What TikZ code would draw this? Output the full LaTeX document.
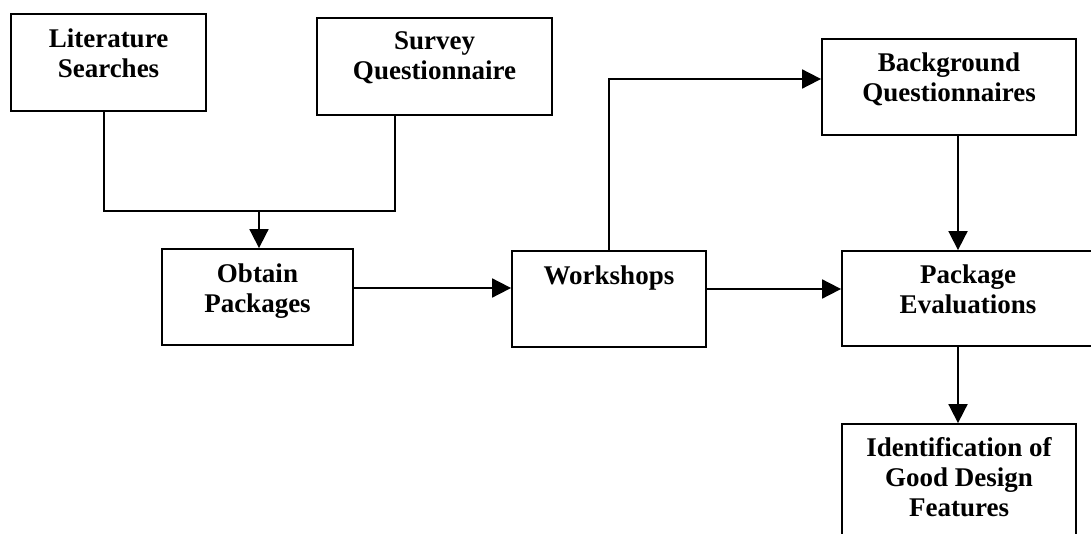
\documentclass[tikz,border=0pt]{standalone}
\usepackage{fontspec}
\setmainfont{Liberation Serif}
\usepackage{tikz}
\usetikzlibrary{arrows.meta,positioning}
\tikzset{
  stage/.style={draw, line width=1.8pt, inner sep=0pt},
  stagetext/.style={anchor=north, align=center, inner sep=0pt,
    font=\bfseries\fontsize{27}{30}\selectfont},
  link/.style={line width=1.8pt},
  flow/.style={line width=1.8pt, -{Triangle[length=19pt,width=19pt]}}
}

\begin{document}
\begin{tikzpicture}[x=1pt,y=-1pt]
\useasboundingbox (0,0) rectangle (1091,534);
\clip (0,0) rectangle (1091,534);
% boxes:
\node[stage, minimum width=195pt, minimum height=97pt] (lit) at (108.5,62.5) {};
\node[stage, minimum width=235pt, minimum height=97pt] (survey) at (434.5,66.5) {};
\node[stage, minimum width=191pt, minimum height=96pt] (obtain) at (257.5,297) {};
\node[stage, minimum width=194pt, minimum height=96pt] (workshops) at (609,299) {};
\node[stage, minimum width=254pt, minimum height=96pt] (back) at (949,87) {};
\node[stage, minimum width=252pt, minimum height=95pt] (pe) at (968,298.5) {};
\node[stage, minimum width=234pt, minimum height=130pt] (ident) at (959,489) {};
% texts:
\node[stagetext, below=15pt of lit.north] (littext) {Literature\\Searches};
\node[stagetext, below=14pt of survey.north] (surveytext) {Survey\\Questionnaire};
\node[stagetext, below=15pt of obtain.north] (obtaintext) {Obtain\\Packages};
\node[stagetext, below=15pt of workshops.north] (workshopstext) {Workshops};
\node[stagetext, below=14pt of back.north] (backtext) {Background\\Questionnaires};
\node[stagetext, below=14pt of pe.north] (petext) {Package\\Evaluations};
\node[stagetext, below=14pt of ident.north] (identtext) {Identification of\\Good Design\\Features};
% connectors:
\coordinate (join) at (259,211);
\draw[link] ([xshift=-4.5pt]lit.south) |- (join) -| ([xshift=-39.5pt]survey.south);
\draw[flow] (join) -- (join |- obtain.north);
\draw[flow] ([yshift=9pt]obtain.east) -- ([yshift=9pt]obtain.east -| workshops.west);
\draw[flow] (workshops.north) |- ([yshift=8pt]back.west);
\draw[flow] ([yshift=10pt]workshops.east) -- ([yshift=10pt]workshops.east -| pe.west);
\draw[flow] ([xshift=9pt]back.south) -- ([xshift=9pt]back.south |- pe.north);
\draw[flow] ([xshift=-10pt]pe.south) -- ([xshift=-10pt]pe.south |- ident.north);
\end{tikzpicture}
\end{document}
